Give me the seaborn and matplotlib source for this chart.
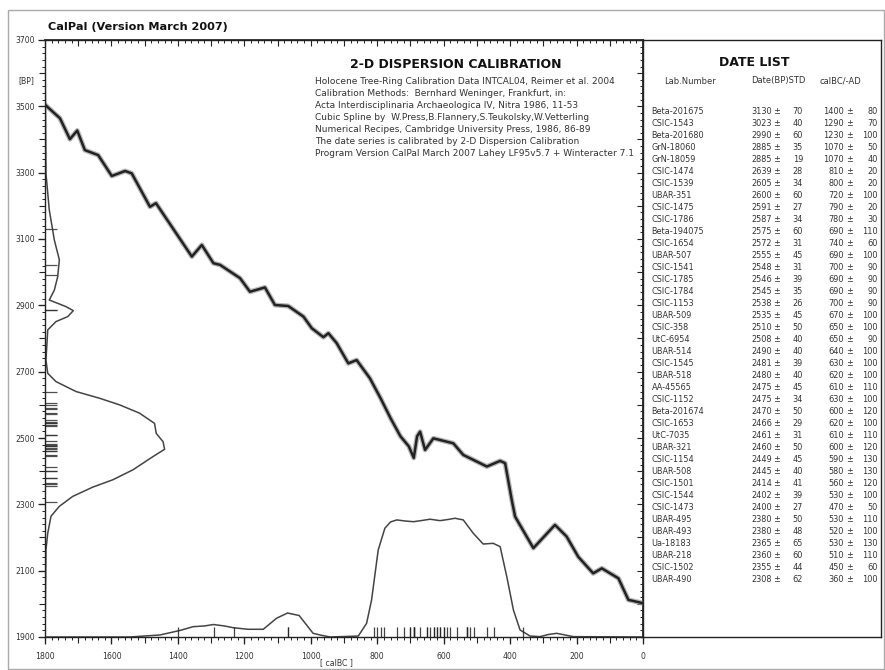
import numpy as np
import pandas as pd
import matplotlib
matplotlib.use("Agg")
import matplotlib.pyplot as plt
import seaborn as sns
from matplotlib.ticker import MultipleLocator, FixedLocator
from matplotlib.patches import Rectangle

sns.set_theme(style="white")
plt.rcParams['font.family'] = ['DejaVu Sans']

# ---------------- data ----------------
# calibration curve (cal BC -> 14C BP)
cal_curve_bc = [1800, 1755, 1725, 1703, 1680, 1640, 1599, 1559, 1539, 1484, 1466, 1358, 1328,
                1293, 1273, 1213, 1183, 1138, 1108, 1068, 1022, 997, 962, 947, 922, 887, 862,
                822, 790, 760, 730, 705, 690, 680, 671, 656, 631, 571, 541, 470, 430, 415, 395,
                385, 330, 265, 230, 195, 150, 124, 74, 44, 0]
cal_curve_bp = [3505, 3464, 3401, 3427, 3368, 3353, 3290, 3305, 3298, 3197, 3208, 3047, 3082,
                3027, 3022, 2982, 2941, 2954, 2901, 2898, 2866, 2831, 2804, 2816, 2786, 2725, 2735,
                2680, 2620, 2560, 2505, 2475, 2440, 2505, 2519, 2464, 2499, 2484, 2449, 2414, 2431,
                2424, 2313, 2263, 2168, 2238, 2203, 2142, 2092, 2107, 2077, 2012, 2002]

# summed 14C probability (BP axis), relative
bp_density_bp = [3700, 3298, 3187, 3097, 3037, 2986, 2946, 2916, 2896, 2884, 2866, 2851, 2826,
                 2735, 2695, 2670, 2640, 2620, 2600, 2575, 2544, 2514, 2489, 2466, 2444, 2404,
                 2374, 2352, 2324, 2294, 2264, 2213, 2163, 1900]
bp_density_val = [0.0, 0.008, 0.036, 0.078, 0.12, 0.106, 0.078, 0.036, 0.176, 0.237, 0.19,
                  0.092, 0.023, 0.008, 0.023, 0.092, 0.26, 0.455, 0.623, 0.79, 0.916, 0.93,
                  0.987, 1.0, 0.903, 0.735, 0.567, 0.4, 0.232, 0.12, 0.05, 0.023, 0.008, 0.0]

# summed calibrated probability (cal BC axis), relative
bc_density_bc = [1800, 1545, 1454, 1394, 1354, 1320, 1293, 1260, 1233, 1189, 1143, 1103, 1070,
                 1035, 993, 972, 942, 857, 832, 817, 797, 777, 760, 741, 716, 691, 666, 641, 611,
                 586, 566, 541, 511, 481, 466, 451, 430, 410, 390, 370, 340, 310, 285, 260, 235,
                 210, 0]
bc_density_val = [0.0, 0.0, 0.017, 0.055, 0.087, 0.093, 0.105, 0.093, 0.078, 0.065, 0.065,
                  0.158, 0.202, 0.181, 0.031, 0.017, 0.0, 0.008, 0.115, 0.312, 0.733, 0.916,
                  0.969, 0.986, 0.977, 0.971, 0.981, 0.992, 0.98, 0.99, 1.0, 0.986, 0.874,
                  0.783, 0.786, 0.789, 0.761, 0.508, 0.227, 0.059, 0.008, 0.003, 0.021, 0.031,
                  0.017, 0.003, 0.0]

# date list
lab_numbers = ["Beta-201675", "CSIC-1543", "Beta-201680", "GrN-18060", "GrN-18059", "CSIC-1474",
               "CSIC-1539", "UBAR-351", "CSIC-1475", "CSIC-1786", "Beta-194075", "CSIC-1654",
               "UBAR-507", "CSIC-1541", "CSIC-1785", "CSIC-1784", "CSIC-1153", "UBAR-509",
               "CSIC-358", "UtC-6954", "UBAR-514", "CSIC-1545", "UBAR-518", "AA-45565",
               "CSIC-1152", "Beta-201674", "CSIC-1653", "UtC-7035", "UBAR-321", "CSIC-1154",
               "UBAR-508", "CSIC-1501", "CSIC-1544", "CSIC-1473", "UBAR-495", "UBAR-493",
               "Ua-18183", "UBAR-218", "CSIC-1502", "UBAR-490"]
date_bp = [3130, 3023, 2990, 2885, 2885, 2639, 2605, 2600, 2591, 2587, 2575, 2572, 2555, 2548,
           2546, 2545, 2538, 2535, 2510, 2508, 2490, 2481, 2480, 2475, 2475, 2470, 2466, 2461,
           2460, 2449, 2445, 2414, 2402, 2400, 2380, 2380, 2365, 2360, 2355, 2308]
date_std = [70, 40, 60, 35, 19, 28, 34, 60, 27, 34, 60, 31, 45, 31, 39, 35, 26, 45, 50, 40, 40,
            39, 40, 45, 34, 50, 29, 31, 50, 45, 40, 41, 39, 27, 50, 48, 65, 60, 44, 62]
cal_bc = [1400, 1290, 1230, 1070, 1070, 810, 800, 720, 790, 780, 690, 740, 690, 700, 690, 690,
          700, 670, 650, 650, 640, 630, 620, 610, 630, 600, 620, 610, 600, 590, 580, 560, 530,
          470, 530, 520, 530, 510, 450, 360]
cal_err = [80, 70, 100, 50, 40, 20, 20, 100, 20, 30, 110, 60, 100, 90, 90, 90, 90, 100, 100, 90,
           100, 100, 100, 110, 100, 120, 100, 110, 120, 130, 130, 120, 100, 50, 110, 100, 130,
           110, 60, 100]

# axis tick labels
bp_tick_labels = [1900, 2100, 2300, 2500, 2700, 2900, 3100, 3300, 3500, 3700]
bc_tick_labels = [1800, 1600, 1400, 1200, 1000, 800, 600, 400, 200, 0]

title = "CalPal (Version March 2007)"
panel_title = "2-D DISPERSION CALIBRATION"
info_lines = ["Holocene Tree-Ring Calibration Data INTCAL04, Reimer et al. 2004",
              "Calibration Methods:  Bernhard Weninger, Frankfurt, in:",
              "Acta Interdisciplinaria Archaeologica IV, Nitra 1986, 11-53",
              "Cubic Spline by  W.Press,B.Flannery,S.Teukolsky,W.Vetterling",
              "Numerical Recipes, Cambridge University Press, 1986, 86-89",
              "The date series is calibrated by 2-D Dispersion Calibration",
              "Program Version CalPal March 2007 Lahey LF95v5.7 + Winteracter 7.1"]

# ---------------- layout ----------------
W, H = 885, 670
fig = plt.figure(figsize=(W / 100, H / 100), dpi=100)
fig.patch.set_facecolor("white")

L, R, T, B = 45, 643, 40, 637
ax = fig.add_axes([L / W, 1 - B / H, (R - L) / W, (B - T) / H])
ax.set_facecolor("white")
ax.set_xlim(1800, 0)
ax.set_ylim(1900, 3700)

txtc = "#333333"
ink = "#222222"

# BP density (left, horizontal extent)
bp_w = 360.0
dfl = pd.DataFrame({"bp": bp_density_bp, "x": [1800 - v * bp_w for v in bp_density_val]})
sns.lineplot(data=dfl, x="x", y="bp", sort=False, estimator=None, ax=ax,
             color="#444444", lw=1.1)

# cal BC density (bottom)
bc_h = 358.0
dfb = pd.DataFrame({"bc": bc_density_bc, "y": [1900 + v * bc_h for v in bc_density_val]})
sns.lineplot(data=dfb, x="bc", y="y", sort=False, estimator=None, ax=ax,
             color="#444444", lw=1.1)

# calibration curve
dfc = pd.DataFrame({"bc": cal_curve_bc, "bp": cal_curve_bp})
sns.lineplot(data=dfc, x="bc", y="bp", sort=False, estimator=None, ax=ax,
             color="#999999", lw=3.6, alpha=0.7)
sns.lineplot(data=dfc, x="bc", y="bp", sort=False, estimator=None, ax=ax,
             color="#222222", lw=1.8)

# rugs
ax.hlines(date_bp, 1800, 1800 - 12 / 0.3322, color="#333333", lw=0.9, alpha=0.85)
ax.vlines(cal_bc, 1900, 1900 + 10 / 0.3317, color="#222222", lw=0.9, alpha=0.85)

ax.set_xlabel("")
ax.set_ylabel("")

for s in ax.spines.values():
    s.set_color(ink)
    s.set_linewidth(1.0)

ax.xaxis.set_major_locator(FixedLocator(bc_tick_labels))
ax.xaxis.set_minor_locator(MultipleLocator(20))
ax.yaxis.set_major_locator(FixedLocator(bp_tick_labels))
ax.yaxis.set_minor_locator(MultipleLocator(20))
ax.tick_params(axis="x", which="major", direction="out", length=5, width=0.9, color=ink,
               labelsize=5.6, labelcolor=txtc, pad=5.5, bottom=True, top=False)
ax.tick_params(axis="x", which="minor", direction="out", length=2.5, width=0.7, color=ink,
               bottom=True, top=False)
ax.tick_params(axis="y", which="major", direction="out", length=5, width=0.9, color=ink,
               labelsize=5.6, labelcolor=txtc, pad=2.5, left=True, right=False)
ax.tick_params(axis="y", which="minor", direction="out", length=2.5, width=0.7, color=ink,
               left=True, right=False)

# medium ticks every 100 on left and bottom
secl = ax.secondary_yaxis("left")
secl.yaxis.set_major_locator(MultipleLocator(100))
secl.tick_params(direction="out", length=4, width=0.8, color=ink, labelleft=False)
secl.spines["left"].set_visible(False)
secb = ax.secondary_xaxis("bottom")
secb.xaxis.set_major_locator(MultipleLocator(100))
secb.tick_params(direction="out", length=4, width=0.8, color=ink, labelbottom=False)
secb.spines["bottom"].set_visible(False)

# top and right inward ticks
sect = ax.secondary_xaxis("top")
sect.xaxis.set_major_locator(MultipleLocator(100))
sect.xaxis.set_minor_locator(MultipleLocator(20))
sect.tick_params(which="major", direction="in", length=4.5, width=0.8, color=ink,
                 labeltop=False)
sect.tick_params(which="minor", direction="in", length=2.5, width=0.7, color=ink)
secr = ax.secondary_yaxis("right")
secr.yaxis.set_major_locator(MultipleLocator(100))
secr.yaxis.set_minor_locator(MultipleLocator(20))
secr.tick_params(which="major", direction="in", length=4.5, width=0.8, color=ink,
                 labelright=False)
secr.tick_params(which="minor", direction="in", length=2.5, width=0.7, color=ink)

# ---------------- date list panel ----------------
ax2 = fig.add_axes([R / W, 1 - B / H, (881 - R) / W, (B - T) / H])
ax2.set_xlim(R, 881)
ax2.set_ylim(B, T)
ax2.set_xticks([])
ax2.set_yticks([])
ax2.set_facecolor("white")
for s in ax2.spines.values():
    s.set_color(ink)
    s.set_linewidth(1.0)

ax2.text(754.5, 63, "DATE LIST", ha="center", va="center", fontsize=9.0, fontweight="bold",
         color="#111111")
ax2.text(689.5, 81, "Lab.Number", ha="center", va="center", fontsize=6.0, color=txtc)
ax2.text(778, 81, "Date(BP)STD", ha="center", va="center", fontsize=6.0, color=txtc)
ax2.text(840.5, 81, "calBC/-AD", ha="center", va="center", fontsize=6.0, color=txtc)

fs = 5.9
for i, lab in enumerate(lab_numbers):
    y = 111.7 + i * 12.0
    ax2.text(651.5, y, lab, ha="left", va="center", fontsize=fs, color=txtc)
    ax2.text(772, y, str(date_bp[i]), ha="right", va="center", fontsize=fs, color=txtc)
    ax2.text(777, y, "\u00b1", ha="center", va="center", fontsize=fs, color=txtc)
    ax2.text(803, y, str(date_std[i]), ha="right", va="center", fontsize=fs, color=txtc)
    ax2.text(844, y, str(cal_bc[i]), ha="right", va="center", fontsize=fs, color=txtc)
    ax2.text(850, y, "\u00b1", ha="center", va="center", fontsize=fs, color=txtc)
    ax2.text(878, y, str(cal_err[i]), ha="right", va="center", fontsize=fs, color=txtc)

# ---------------- texts ----------------
def fpt(x, y):
    return x / W, 1 - y / H

fig.text(*fpt(48, 27), title, ha="left", va="center", fontsize=8.1, fontweight="bold",
         color="#111111")
fig.text(*fpt(456, 64), panel_title, ha="center", va="center", fontsize=9.0,
         fontweight="bold", color="#111111")
for j, line in enumerate(info_lines):
    fig.text(*fpt(315, 81.7 + j * 11.9), line, ha="left", va="center", fontsize=6.5,
             color=txtc)
fig.text(*fpt(26, 81), "[BP]", ha="center", va="center", fontsize=5.6, color=txtc)
fig.text(*fpt(336, 663), "[ calBC ]", ha="center", va="center", fontsize=5.6, color=txtc)

# outer frame
fig.patches.append(Rectangle((8 / W, 1 - 669 / H), 876 / W, 659 / H, transform=fig.transFigure,
                             fill=False, edgecolor="#aaaaaa", lw=1.0))

fig.savefig("out.png", dpi=100, facecolor="white")
